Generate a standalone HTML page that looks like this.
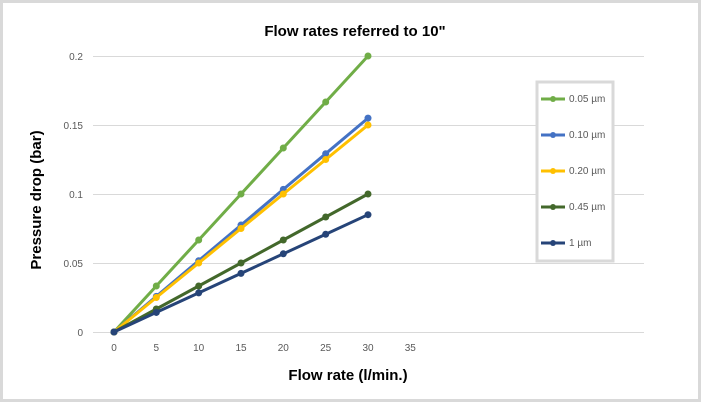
<!DOCTYPE html>
<html><head><meta charset="utf-8"><style>
html,body{margin:0;padding:0;background:#fff}
svg{display:block;font-family:"Liberation Sans",sans-serif}
</style></head><body>
<svg width="701" height="402" viewBox="0 0 701 402" xmlns="http://www.w3.org/2000/svg">
<rect x="1.5" y="1.5" width="698" height="399" fill="#fff" stroke="#d9d9d9" stroke-width="3"/>
<text x="355" y="36" text-anchor="middle" font-size="15" font-weight="bold" fill="#000">Flow rates referred to 10"</text>
<g stroke="#d9d9d9" stroke-width="1">
<line x1="93" x2="644" y1="56.5" y2="56.5"/>
<line x1="93" x2="644" y1="125.5" y2="125.5"/>
<line x1="93" x2="644" y1="194.5" y2="194.5"/>
<line x1="93" x2="644" y1="263.5" y2="263.5"/>
<line x1="93" x2="644" y1="332.5" y2="332.5"/>
</g>
<g font-size="10" fill="#595959" text-anchor="end">
<text x="83" y="60">0.2</text><text x="83" y="129">0.15</text><text x="83" y="198">0.1</text><text x="83" y="267">0.05</text><text x="83" y="336">0</text>
</g>
<g font-size="10" fill="#595959" text-anchor="middle">
<text x="114" y="351">0</text><text x="156.3" y="351">5</text><text x="198.7" y="351">10</text><text x="241" y="351">15</text><text x="283.3" y="351">20</text><text x="325.7" y="351">25</text><text x="368" y="351">30</text><text x="410.3" y="351">35</text>
</g>
<text x="348" y="380" text-anchor="middle" font-size="15" font-weight="bold">Flow rate (l/min.)</text>
<text transform="translate(41,200) rotate(-90)" text-anchor="middle" font-size="15" font-weight="bold">Pressure drop (bar)</text>
<g fill="none" stroke-width="3" stroke-linejoin="round">
<polyline stroke="#70ad47" points="114,332 156.3,309 198.7,286 241,263 283.3,240 325.7,217 368,194" transform="translate(0,0)" id="a"/>
</g>
<script>
(function(){
var xs=[114,156.3,198.7,241,283.3,325.7,368];
function Y(v){return 332-v*1380;}
var S=[["#70ad47",0.2],["#4472c4",0.155],["#ffc000",0.15],["#43682b",0.1],["#264478",0.085]];
var ns="http://www.w3.org/2000/svg",svg=document.querySelector("svg");
document.getElementById("a").remove();
S.forEach(function(s){
var pts=xs.map(function(x,i){return x+","+Y(s[1]*i/6).toFixed(1)}).join(" ");
var p=document.createElementNS(ns,"polyline");
p.setAttribute("points",pts);p.setAttribute("fill","none");p.setAttribute("stroke",s[0]);p.setAttribute("stroke-width","3");p.setAttribute("stroke-linejoin","round");
svg.appendChild(p);
xs.forEach(function(x,i){var c=document.createElementNS(ns,"circle");c.setAttribute("cx",x);c.setAttribute("cy",Y(s[1]*i/6));c.setAttribute("r","3.5");c.setAttribute("fill",s[0]);svg.appendChild(c);});
});
})();
</script>
<rect x="537" y="82" width="76" height="179" fill="#fff" stroke="#d9d9d9" stroke-width="3"/>
<g stroke-width="3">
<line x1="541" x2="565" y1="99" y2="99" stroke="#70ad47"/><circle cx="553" cy="99" r="3" fill="#70ad47"/>
<line x1="541" x2="565" y1="135" y2="135" stroke="#4472c4"/><circle cx="553" cy="135" r="3" fill="#4472c4"/>
<line x1="541" x2="565" y1="171" y2="171" stroke="#ffc000"/><circle cx="553" cy="171" r="3" fill="#ffc000"/>
<line x1="541" x2="565" y1="207" y2="207" stroke="#43682b"/><circle cx="553" cy="207" r="3" fill="#43682b"/>
<line x1="541" x2="565" y1="243" y2="243" stroke="#264478"/><circle cx="553" cy="243" r="3" fill="#264478"/>
</g>
<g font-size="10" fill="#595959">
<text x="569" y="102">0.05 µm</text><text x="569" y="138">0.10 µm</text><text x="569" y="174">0.20 µm</text><text x="569" y="210">0.45 µm</text><text x="569" y="246">1 µm</text>
</g>
</svg>
</body></html>
